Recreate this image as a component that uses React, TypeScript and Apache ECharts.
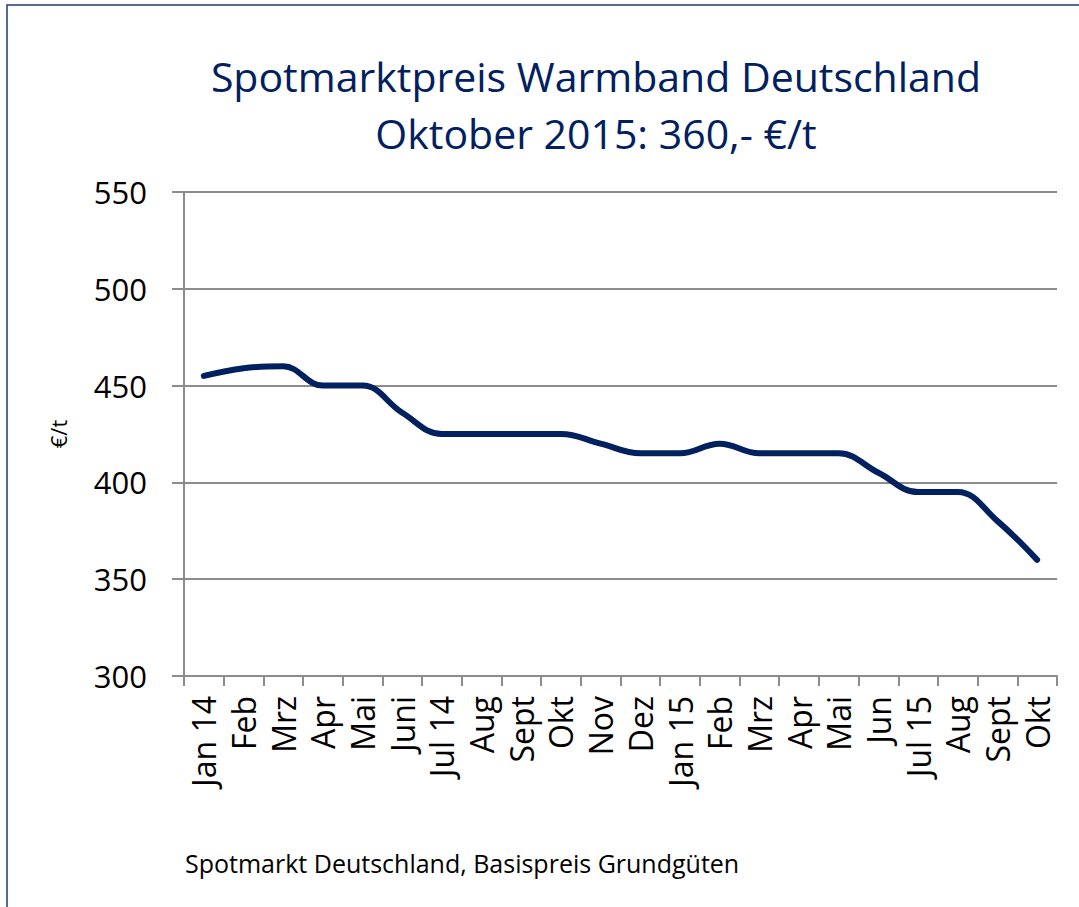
import React, { useEffect, useRef } from "react";
import * as echarts from "echarts";

const categories = [
  "Jan 14", "Feb", "Mrz", "Apr", "Mai", "Juni", "Jul 14", "Aug", "Sept", "Okt", "Nov",
  "Dez", "Jan 15", "Feb", "Mrz", "Apr", "Mai", "Jun", "Jul 15", "Aug", "Sept", "Okt",
];
const prices = [455, 459, 460, 450, 450, 436, 425, 425, 425, 425, 420, 415, 415, 420, 415, 415, 415, 405, 395, 395, 380, 360];
const titleLines = ["Spotmarktpreis Warmband Deutschland", "Oktober 2015: 360,- €/t"];
const yAxisName = "€/t";
const footnote = "Spotmarkt Deutschland, Basispreis Grundgüten";

const FONT = "'Open Sans', 'Noto Sans', sans-serif";

export default function App() {
  const ref = useRef<HTMLDivElement>(null);
  useEffect(() => {
    if (!ref.current) return;
    const chart = echarts.init(ref.current, null, { renderer: "svg" });
    chart.setOption({
      animation: false,
      backgroundColor: "#ffffff",
      title: {
        text: titleLines.join("\n"),
        left: 591,
        textAlign: "center",
        top: 42,
        textStyle: {
          color: "#002060",
          fontFamily: FONT,
          fontSize: 41,
          fontWeight: "normal",
          lineHeight: 57,
        },
      },
      graphic: [
        {
          type: "rect",
          shape: { x: 7, y: 5, width: 1200, height: 1000 },
          style: { fill: "none", stroke: "#1f3a78", lineWidth: 1.5 },
          silent: true,
        },
        {
          type: "text",
          left: 185,
          top: 850,
          style: { text: footnote, fontFamily: FONT, fontSize: 25, fill: "#000" },
        },
      ],
      grid: { left: 184, right: 22, top: 192, bottom: 231, containLabel: false },
      xAxis: {
        type: "category",
        data: categories,
        boundaryGap: true,
        axisLine: { lineStyle: { color: "#8c8c8c", width: 2 } },
        axisTick: { show: true, length: 10, inside: false, alignWithLabel: false, lineStyle: { color: "#8c8c8c", width: 2 } },
        axisLabel: {
          rotate: 90,
          interval: 0,
          margin: 20,
          color: "#000",
          fontFamily: FONT,
          fontSize: 32,
        },
      },
      yAxis: {
        type: "value",
        min: 300,
        max: 550,
        interval: 50,
        name: yAxisName,
        nameLocation: "middle",
        nameGap: 115,
        nameRotate: 90,
        nameTextStyle: { color: "#000", fontFamily: FONT, fontSize: 22 },
        axisLine: { show: true, lineStyle: { color: "#8c8c8c", width: 2 } },
        axisTick: { show: true, length: 12, lineStyle: { color: "#8c8c8c", width: 2 } },
        splitLine: { lineStyle: { color: "#8c8c8c", width: 2 } },
        axisLabel: { margin: 37, color: "#000", fontFamily: FONT, fontSize: 31 },
      },
      series: [
        {
          type: "line",
          data: prices,
          smooth: 0.4,
          symbol: "none",
          lineStyle: { color: "#002060", width: 6, cap: "round" },
        },
      ],
    });
    return () => chart.dispose();
  }, []);
  return (
    <div
      ref={ref}
      style={{ position: "absolute", left: 0, top: 0, width: 1079, height: 907 }}
    />
  );
}
